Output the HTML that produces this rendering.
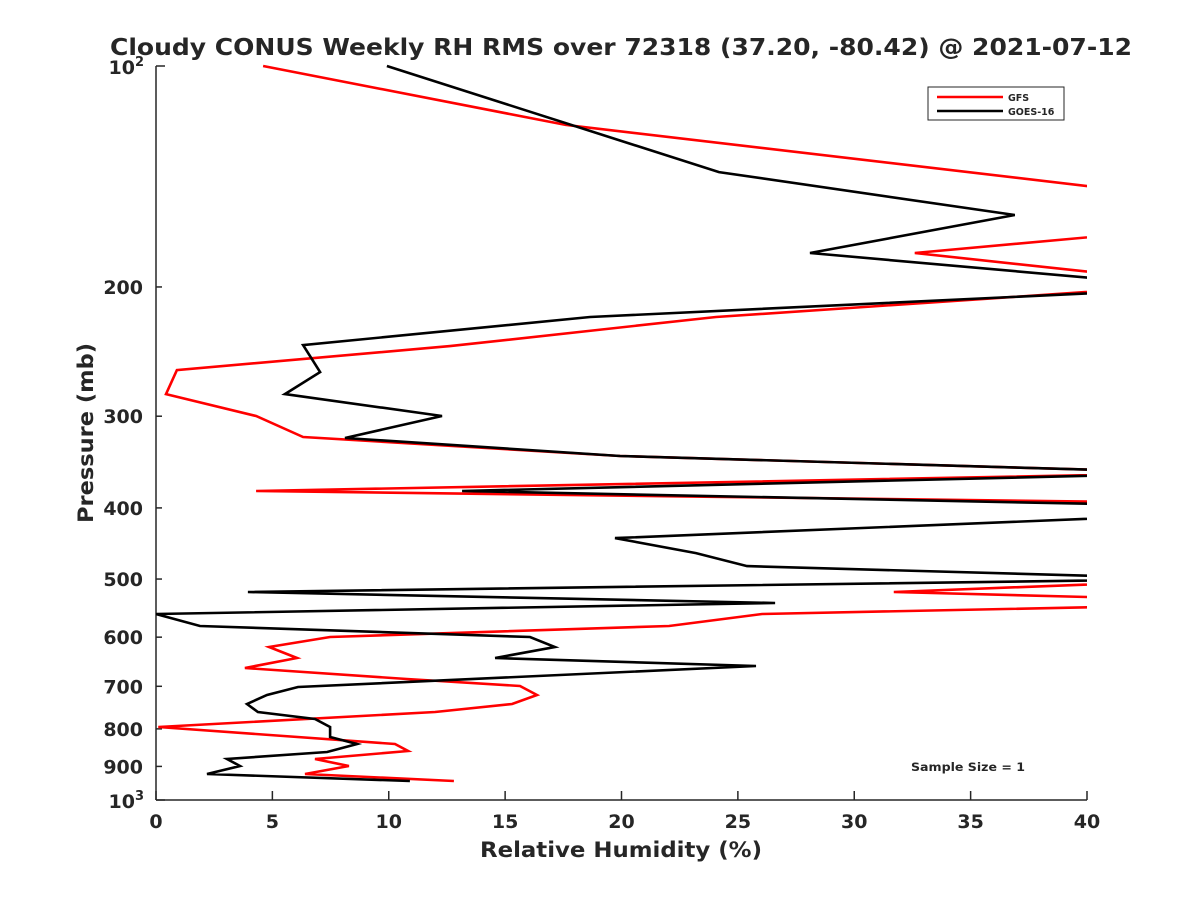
<!DOCTYPE html>
<html><head><meta charset="utf-8"><style>
body{margin:0;background:#fff}
svg text{font-family:"DejaVu Sans","Liberation Sans",sans-serif;font-weight:bold;fill:#262626}
</style></head><body>
<svg width="1200" height="900" viewBox="0 0 1200 900">
<defs><clipPath id="plotclip"><rect x="156" y="60" width="931" height="740"/></clipPath></defs>
<rect width="1200" height="900" fill="#fff"/>
<text x="621" y="55" font-size="23" text-anchor="middle" textLength="1022" lengthAdjust="spacingAndGlyphs" fill="#000">Cloudy CONUS Weekly RH RMS over 72318 (37.20, -80.42) @ 2021-07-12</text>
<g id="axes"></g>
<g id="series" clip-path="url(#plotclip)"></g>
<g>
<rect x="928" y="87" width="136" height="33" fill="#fff" stroke="#262626" stroke-width="1"/>
<line x1="937" y1="97" x2="1003" y2="97" stroke="#f00" stroke-width="2.5"/>
<text x="1008" y="101" font-size="9.5">GFS</text>
<line x1="937" y1="111" x2="1003" y2="111" stroke="#000" stroke-width="2.5"/>
<text x="1008" y="115" font-size="9.5">GOES-16</text>
</g>
<text x="911" y="771" font-size="11.5" textLength="114" lengthAdjust="spacingAndGlyphs" fill="#000">Sample Size = 1</text>
<text x="621" y="857" font-size="21" text-anchor="middle" textLength="282" lengthAdjust="spacingAndGlyphs">Relative Humidity (%)</text>
<text transform="translate(93,433) rotate(-90)" font-size="21" text-anchor="middle" textLength="180" lengthAdjust="spacingAndGlyphs">Pressure (mb)</text>
</svg>
<script>
const xTicks=[0,5,10,15,20,25,30,35,40];
const yMinorTicks=[200,300,400,500,600,700,800,900];
const gfsX=[4.6,17.6,50.6,32.6,45,24.06,12.63,0.9,0.43,4.3,6.32,19.94,45,4.3,45,45,31.7,45,45,26.04,22.04,7.48,4.86,6.06,3.82,10.78,15.64,16.37,15.3,11.99,0.1,10.27,10.83,6.83,8.29,6.4,12.8];
const gfsP=[100,120.3,159.6,179.8,198.2,219.8,240.8,259.6,279.9,299.8,320.2,339.9,358.5,379.3,393.9,501.5,520.8,533.9,542.3,558.0,579.4,599.7,618.9,640.6,661.0,684.2,699.3,719.3,740.0,758.8,795.3,838.9,857.5,879.3,898.9,921.7,942.2];
const goesX=[9.92,24.19,36.9,28.1,45,18.65,6.32,7.05,5.54,12.29,8.12,19.94,45,13.15,45,45,19.72,23.2,25.39,45,3.95,26.6,0,1.89,16.07,17.14,14.57,25.78,6.1,4.77,3.91,4.38,6.83,7.48,7.48,8.64,7.35,3.05,3.61,2.19,10.91];
const goesP=[100,139.5,159.6,179.8,200.6,219.8,240.0,261.2,279.9,299.8,321.2,339.9,358.5,379.3,397.7,407.8,439.7,460.9,480.1,500,520.8,539.0,558.0,579.4,599.7,618.9,640.6,656.8,701.5,719.3,740.0,758.8,775.6,795.3,820.7,838.9,860.2,879.3,898.9,921.7,942.2];
const X0=156,X1=1087,Y0=66,Y1=800;
const sx=v=>X0+(v/40)*(X1-X0);
const sy=p=>Y0+(Math.log10(p)-2)*(Y1-Y0);
const NS='http://www.w3.org/2000/svg';
function mk(tag,attrs,parent){const e=document.createElementNS(NS,tag);for(const k in attrs)e.setAttribute(k,attrs[k]);parent.appendChild(e);return e;}
const ax=document.getElementById('axes');
let l=mk('line',{x1:X0,y1:Y0,x2:X0,y2:Y1,stroke:'#262626','stroke-width':1.5},ax);


l=mk('line',{x1:X0,y1:Y1,x2:X1,y2:Y1,stroke:'#262626','stroke-width':1.5},ax);


xTicks.forEach(v=>{
 const t=mk('line',{x1:sx(v),y1:Y1,x2:sx(v),y2:Y1-9,stroke:'#262626','stroke-width':1.5},ax);
 
 
 const tx=mk('text',{x:sx(v),y:Y1+28,'font-size':19,'text-anchor':'middle'},ax);
 tx.textContent=v;
 
 
});
yMinorTicks.forEach(p=>{
 const t=mk('line',{x1:X0,y1:sy(p),x2:X0+6,y2:sy(p),stroke:'#262626','stroke-width':1.5},ax);
 
 
 const tx=mk('text',{x:X0-13,y:sy(p)+7,'font-size':19,'text-anchor':'end'},ax);
 tx.textContent=p;
 
 
});
[[100,'2'],[1000,'3']].forEach(([p,e])=>{
 const t=mk('line',{x1:X0,y1:sy(p),x2:X0+9,y2:sy(p),stroke:'#262626','stroke-width':1.5},ax);
 
 
 const tx=mk('text',{x:X0-12,y:sy(p)+8,'font-size':19,'text-anchor':'end'},ax);
 tx.innerHTML='10<tspan dy="-8" font-size="13">'+e+'</tspan>';
 
 
});
const sg=document.getElementById('series');
function draw(xs,ps,color,name){
 const pts=xs.map((v,i)=>sx(v).toFixed(1)+','+sy(ps[i]).toFixed(1)).join(' ');
 const pl=mk('polyline',{points:pts,fill:'none',stroke:color,'stroke-width':2.6,'stroke-linejoin':'miter'},sg);
 
 
}
draw(gfsX,gfsP,'#f00','gfs-line');
draw(goesX,goesP,'#000','goes16-line');
</script>
</body></html>
